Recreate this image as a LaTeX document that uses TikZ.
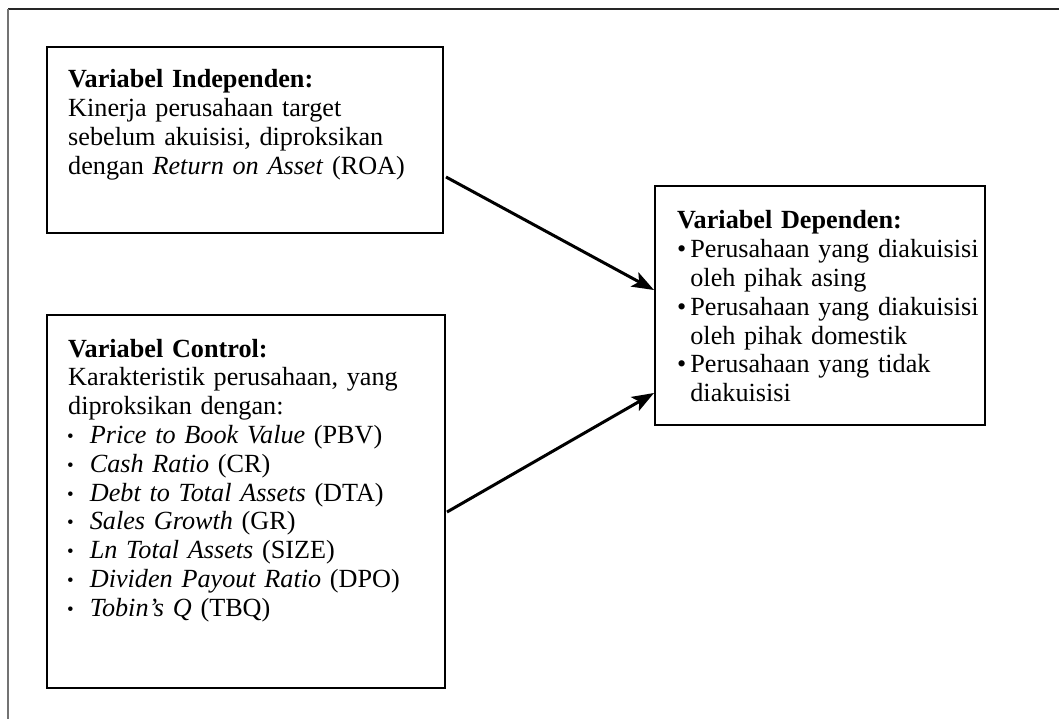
\documentclass[tikz,border=0pt]{standalone}
\usepackage{fontspec}
\setmainfont{Liberation Serif}
\usetikzlibrary{arrows.meta,calc}
\tikzset{
  box/.style={draw=black, line width=2pt, rectangle, inner sep=0pt},
  txt/.style={anchor=base west, inner sep=0pt, align=left, text width=380pt, font=\fontsize{26.2}{28.8}\selectfont},
  conn/.style={line width=3pt, -{Stealth[length=22pt,width=16pt,inset=5pt]}},
  frameline/.style={line width=1.2pt}
}
\newcommand{\sbul}{\hspace*{-1pt}{\fontsize{19}{19}\selectfont\raisebox{1pt}{•}}\hspace{16pt}}
\newcommand{\dbul}{•\hspace{4pt}}
\newcommand{\dind}{\hphantom{•}\hspace{4pt}}
\begin{document}
\begin{tikzpicture}[x=1pt,y=-1pt]
\useasboundingbox (0,0) rectangle (1059,719);
% outer frame
\coordinate (fTL) at (8,9);
\coordinate (fTR) at (1059,9);
\coordinate (fBL) at (8,719);
\draw[frameline, draw=black!85] (fTL) -- (fTR);
\draw[frameline, draw=black!55] (fTL) -- (fBL);
% boxes
\node[box, minimum width=396pt, minimum height=186pt] (ind) at (245,140) {};
\node[box, minimum width=398pt, minimum height=373pt] (ctl) at (246,501.5) {};
\node[box, minimum width=330pt, minimum height=239pt] (dep) at (820,305.5) {};
% texts
\node[txt] (indT) at (68,88) {\textbf{Variabel Independen:}\\
Kinerja perusahaan target\\
sebelum akuisisi, diproksikan\\
dengan \textit{Return on Asset} (ROA)};
\node[txt] (ctlT) at (68,357) {\textbf{Variabel Control:}\\
Karakteristik perusahaan, yang\\
diproksikan dengan:\\
\sbul\textit{Price to Book Value} (PBV)\\
\sbul\textit{Cash Ratio} (CR)\\
\sbul\textit{Debt to Total Assets} (DTA)\\
\sbul\textit{Sales Growth} (GR)\\
\sbul\textit{Ln Total Assets} (SIZE)\\
\sbul\textit{Dividen Payout Ratio} (DPO)\\
\sbul\textit{Tobin’s Q} (TBQ)};
\node[txt] (depT) at (677,229) {\textbf{Variabel Dependen:}\\
\dbul Perusahaan yang diakuisisi\\
\dind oleh pihak asing\\
\dbul Perusahaan yang diakuisisi\\
\dind oleh pihak domestik\\
\dbul Perusahaan yang tidak\\
\dind diakuisisi};
% connectors
\coordinate (s1) at ($(ind.east)+(2,37)$);
\coordinate (e1) at ($(dep.west)+(0,-15.5)$);
\coordinate (s2) at ($(ctl.east)+(1,10.5)$);
\coordinate (e2) at ($(dep.west)+(0,87.5)$);
\draw[conn] (s1) -- (e1);
\draw[conn] (s2) -- (e2);
\end{tikzpicture}
\end{document}
